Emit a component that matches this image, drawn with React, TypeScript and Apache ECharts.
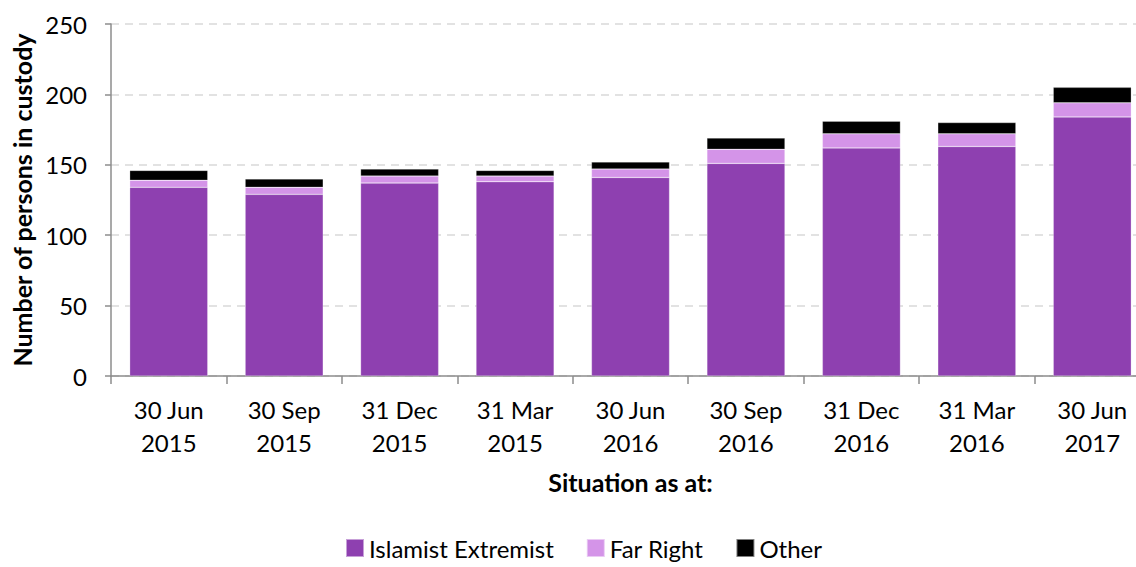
import React, { useEffect, useRef } from "react";
import * as echarts from "echarts";

const categories = [
  "30 Jun\n2015",
  "30 Sep\n2015",
  "31 Dec\n2015",
  "31 Mar\n2015",
  "30 Jun\n2016",
  "30 Sep\n2016",
  "31 Dec\n2016",
  "31 Mar\n2016",
  "30 Jun\n2017",
];
const islamistExtremist = [134, 129, 137, 138, 141, 151, 162, 163, 184];
const farRight = [5, 5, 5, 4, 6, 10, 10, 9, 10];
const other = [7, 6, 5, 4, 5, 8, 9, 8, 11];
const yTicks = { min: 0, max: 250, interval: 50 };

const FONT = "Lato, 'Open Sans', sans-serif";

export default function App() {
  const ref = useRef<HTMLDivElement>(null);
  useEffect(() => {
    if (!ref.current) return;
    const chart = echarts.init(ref.current, null, { renderer: "svg" });
    const bar = (name: string, data: number[], color: string) => ({
      name,
      type: "bar",
      stack: "total",
      data,
      barWidth: "67.6%",
      itemStyle: { color, borderColor: "rgba(255,255,255,0.5)", borderWidth: 0.5 },
    });
    chart.setOption({
      animation: false,
      textStyle: { fontFamily: FONT },
      grid: { left: 111, top: 24, width: 1039, height: 352, containLabel: false },
      legend: {
        bottom: 2,
        left: 340,
        itemWidth: 18,
        itemHeight: 18,
        itemGap: 32,
        icon: "rect",
        textStyle: { fontFamily: FONT, fontSize: 24, color: "#000" },
        data: ["Islamist Extremist", "Far Right", "Other"],
      },
      xAxis: {
        type: "category",
        data: categories,
        name: "Situation as at:",
        nameLocation: "middle",
        nameGap: 93,
        nameTextStyle: { fontFamily: FONT, fontSize: 25, fontWeight: "bold", color: "#000" },
        axisLine: { lineStyle: { color: "#8c8c8c", width: 1.5 } },
        axisTick: { show: true, length: 8, lineStyle: { color: "#8c8c8c", width: 1.5 } },
        axisLabel: {
          fontFamily: FONT,
          fontSize: 24,
          color: "#000",
          lineHeight: 33,
          margin: 17,
          interval: 0,
        },
      },
      yAxis: {
        type: "value",
        min: yTicks.min,
        max: yTicks.max,
        interval: yTicks.interval,
        name: "Number of persons in custody",
        nameLocation: "middle",
        nameGap: 76,
        nameTextStyle: { fontFamily: FONT, fontSize: 25, fontWeight: "bold", color: "#000" },
        axisLine: { show: true, lineStyle: { color: "#8c8c8c", width: 1.5 } },
        axisTick: { show: true, length: 6, lineStyle: { color: "#8c8c8c", width: 1.5 } },
        axisLabel: { fontFamily: FONT, fontSize: 24, color: "#000", margin: 24 },
        splitLine: { lineStyle: { color: "#d9d9d9", type: [8, 6], width: 1.5 } },
      },
      series: [
        bar("Islamist Extremist", islamistExtremist, "#8e40b0"),
        bar("Far Right", farRight, "#d494e8"),
        bar("Other", other, "#000000"),
      ],
    });
    return () => chart.dispose();
  }, []);
  return (
    <div
      ref={ref}
      style={{ position: "fixed", left: 0, top: 0, width: 1152, height: 567, background: "#fff" }}
    />
  );
}
